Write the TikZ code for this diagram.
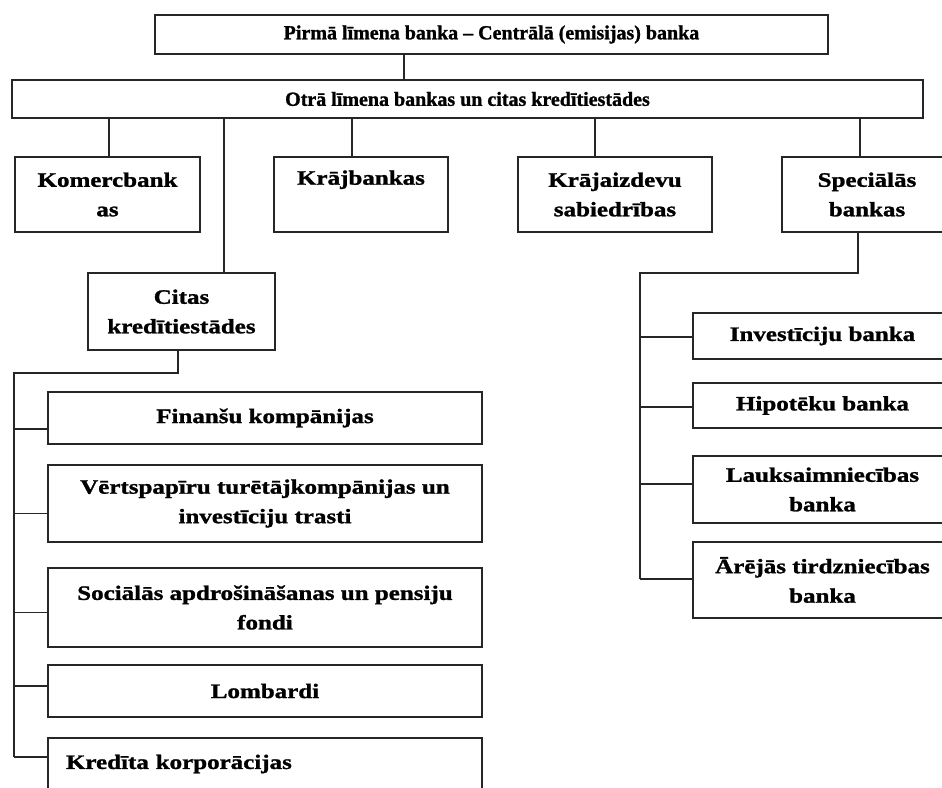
\documentclass[tikz,border=0pt]{standalone}
\usepackage{fontspec}
\setmainfont[BoldFeatures = {FakeBold = 1.3}]{Liberation Serif}
\newfontfamily\boxfont[FakeStretch = 1.22, BoldFeatures = {FakeBold = 1.3}]{Liberation Serif}
\begin{document}
\begin{tikzpicture}[x = 1pt, y = -1pt,
    box/.style = {draw = black!85, line width = 1.1pt, align = center, inner sep = 2pt,
                  font = \fontsize{20.5}{29.5}\boxfont\bfseries},
    wide/.style = {box, font = \fontsize{20}{24}\selectfont\bfseries},
    link/.style = {draw = black!85, line width = 1.1pt}]
    \useasboundingbox (0, 0) rectangle (942, 787);
    \clip (0, 0) rectangle (942, 787);

    % top levels
    \node [wide, minimum width = 673, minimum height = 39] (central) at (491.5, 34.5) {Pirmā līmena banka -- Centrālā (emisijas) banka};
    \node [wide, minimum width = 911, minimum height = 38] (second) at (467.5, 99) {Otrā līmena bankas un citas kredītiestādes};

    % third level
    \node [box, minimum width = 185, minimum height = 75] (komerc) at (107.5, 194.5) {Komercbank\\as};
    \node [box, minimum width = 174, minimum height = 75] (kraj) at (361, 194.5) {Krājbankas\\\phantom{Krājbankas}};
    \node [box, minimum width = 194, minimum height = 75] (krajaizd) at (615, 194.5) {Krājaizdevu\\sabiedrības};
    \node [box, minimum width = 170, minimum height = 75] (spec) at (867, 194.5) {Speciālās\\bankas};
    \node [box, minimum width = 187, minimum height = 77] (citas) at (181.5, 311.5) {Citas\\kredītiestādes};

    % left column
    \node [box, minimum width = 434, minimum height = 52] (finansu) at (265, 418) {Finanšu kompānijas};
    \node [box, minimum width = 434, minimum height = 77] (vertsp) at (265, 503.5) {Vērtspapīru turētājkompānijas un\\investīciju trasti};
    \node [box, minimum width = 434, minimum height = 79] (social) at (265, 607.5) {Sociālās apdrošināšanas un pensiju\\fondi};
    \node [box, minimum width = 434, minimum height = 52] (lombardi) at (265, 691) {Lombardi};
    \node [box, minimum width = 434, minimum height = 52, text width = 398, align = left] (kredita) at (265, 764) {Kredīta korporācijas};

    % right column
    \node [box, minimum width = 259, minimum height = 46] (invest) at (822.5, 336) {Investīciju banka};
    \node [box, minimum width = 259, minimum height = 45] (hipot) at (822.5, 405.5) {Hipotēku banka};
    \node [box, minimum width = 259, minimum height = 67] (lauks) at (822.5, 489.5) {Lauksaimniecības\\banka};
    \node [box, minimum width = 259, minimum height = 76] (arej) at (822.5, 580) {Ārējās tirdzniecības\\banka};

    \coordinate (cdrop) at (404, 0);
    \coordinate (lbus) at (14, 373);
    \coordinate (rbus) at (640, 273);

    \draw [link] (cdrop |- central.south) -- (cdrop |- second.north);
    \foreach \n/\d in {komerc/1.5, kraj/-9, krajaizd/-20, spec/-7, citas/42.5}
        \draw [link] ([xshift = \d pt]\n.north) -- ([xshift = \d pt]\n.north |- second.south);

    \draw [link] ([xshift = -3.5pt]citas.south) |- (lbus) -- ([yshift = 7pt]kredita.west -| lbus);
    \foreach \n/\d in {finansu/-11, vertsp/-10, social/-5, lombardi/5, kredita/7}
        \draw [link] ([yshift = \d pt]\n.west) -- ([yshift = \d pt]\n.west -| lbus);

    \draw [link] ([xshift = -9pt]spec.south) |- (rbus) -- ([yshift = 1pt]arej.west -| rbus);
    \foreach \n/\d in {invest/-1, hipot/-1.5, lauks/5.5, arej/1}
        \draw [link] ([yshift = \d pt]\n.west) -- ([yshift = \d pt]\n.west -| rbus);
\end{tikzpicture}
\end{document}
